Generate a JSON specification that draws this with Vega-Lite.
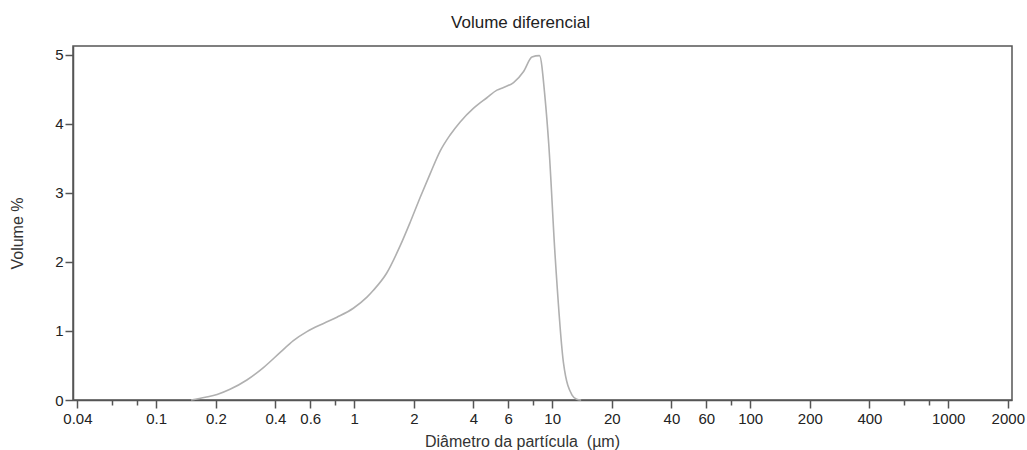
{
  "$schema": "https://vega.github.io/schema/vega-lite/v6.json",
  "width": 939,
  "height": 354,
  "autosize": {"type": "none"},
  "padding": {"left": 73, "top": 46, "right": 15, "bottom": 50},
  "background": "white",
  "title": {"text": "Volume diferencial", "font": "Liberation Sans", "fontSize": 17, "fontWeight": "normal", "color": "#222222", "dx": -22, "offset": 14},
  "config": {
    "view": {"stroke": "#555555", "strokeWidth": 1.5},
    "axis": {"grid": false, "domainColor": "#555555", "domainWidth": 1.5, "tickColor": "#555555", "tickWidth": 1.5, "labelFont": "Liberation Sans", "labelFontSize": 15, "labelColor": "#222222", "titleFont": "Liberation Sans", "titleFontSize": 16, "titleFontWeight": "normal", "titleColor": "#333333"}
  },
  "data": {"values": [
    {"d": 0.15, "v": 0},
    {"d": 0.177, "v": 0.04},
    {"d": 0.203, "v": 0.08},
    {"d": 0.236, "v": 0.155},
    {"d": 0.287, "v": 0.29},
    {"d": 0.348, "v": 0.47},
    {"d": 0.423, "v": 0.69},
    {"d": 0.493, "v": 0.86},
    {"d": 0.577, "v": 0.99},
    {"d": 0.7, "v": 1.11},
    {"d": 0.818, "v": 1.2},
    {"d": 0.99, "v": 1.33},
    {"d": 1.16, "v": 1.49},
    {"d": 1.25, "v": 1.59},
    {"d": 1.46, "v": 1.84},
    {"d": 1.71, "v": 2.24},
    {"d": 1.92, "v": 2.58},
    {"d": 2.15, "v": 2.93},
    {"d": 2.42, "v": 3.28},
    {"d": 2.72, "v": 3.61},
    {"d": 3.05, "v": 3.84},
    {"d": 3.43, "v": 4.03},
    {"d": 4.01, "v": 4.23},
    {"d": 4.68, "v": 4.38},
    {"d": 5.26, "v": 4.49},
    {"d": 5.68, "v": 4.53},
    {"d": 6.38, "v": 4.6},
    {"d": 7.17, "v": 4.76},
    {"d": 7.9, "v": 4.97},
    {"d": 8.62, "v": 4.99},
    {"d": 9.22, "v": 4.35},
    {"d": 9.6, "v": 3.72},
    {"d": 10.35, "v": 2.08},
    {"d": 11.41, "v": 0.53},
    {"d": 12.6, "v": 0.07},
    {"d": 13.3, "v": 0.01},
    {"d": 14, "v": 0}
  ]},
  "mark": {"type": "line", "color": "#b0b0b0", "strokeWidth": 1.6, "interpolate": "monotone"},
  "encoding": {
    "x": {
      "field": "d", "type": "quantitative",
      "scale": {"type": "log", "domain": [0.038, 2100], "nice": false},
      "axis": {
        "title": "Diâmetro da partícula\u00a0 (µm)",
        "values": [0.04, 0.06, 0.08, 0.1, 0.2, 0.4, 0.6, 0.8, 1, 2, 4, 6, 8, 10, 20, 40, 60, 80, 100, 200, 400, 600, 800, 1000, 2000],
        "labelExpr": "indexof([0.06, 0.08, 0.8, 8, 80, 600, 800], datum.value) >= 0 ? '' : '' + datum.value",
        "tickSize": {"condition": {"test": "indexof([0.06, 0.08, 0.8, 8, 80, 600, 800], datum.value) >= 0", "value": 5}, "value": 8},
        "labelPadding": 3,
        "labelOverlap": false,
        "labelFlush": false,
        "titleX": 449,
        "titleY": 46,
        "titleBaseline": "alphabetic"
      }
    },
    "y": {
      "field": "v", "type": "quantitative",
      "scale": {"domain": [0, 5.13], "nice": false},
      "axis": {
        "title": "Volume %",
        "values": [0, 1, 2, 3, 4, 5],
        "tickSize": 8,
        "labelPadding": 2,
        "titleX": -56,
        "titleY": 187,
        "titleBaseline": "middle"
      }
    }
  }
}
